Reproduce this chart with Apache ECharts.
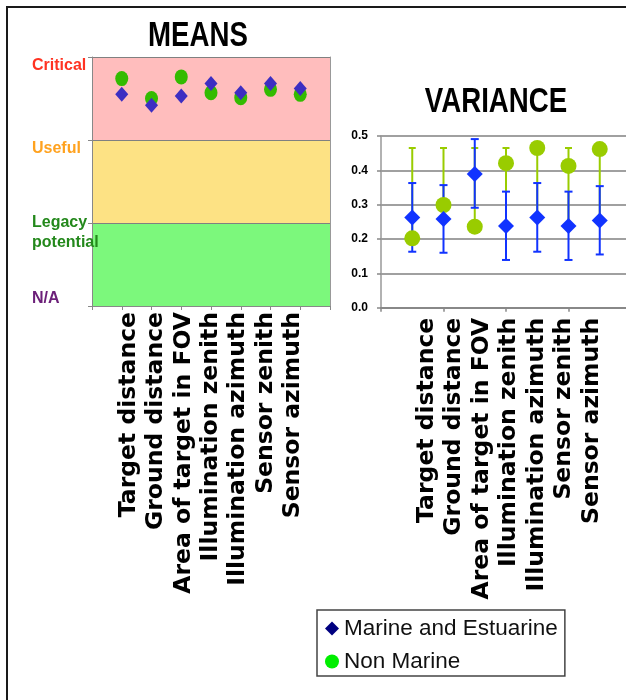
<!DOCTYPE html>
<html>
<head>
<meta charset="utf-8">
<script src="https://cdn.jsdelivr.net/npm/echarts@6/dist/echarts.min.js"></script>
<style>
  html, body { margin: 0; padding: 0; background: #fff; overflow: hidden; }
  #chart { width: 626px; height: 700px; }
</style>
</head>
<body>
<div id="chart"></div>
<script>
// Parameters compared in both panels
const categories = ['Target distance', 'Ground distance', 'Area of target in FOV',
  'Illumination zenith', 'Illumination azimuth', 'Sensor zenith', 'Sensor azimuth'];

// Importance levels on the MEANS scale (0..3)
const meanLevels = ['N/A', 'Legacy potential', 'Useful', 'Critical'];

// MEANS panel
const marineMeans    = [2.55, 2.42, 2.53, 2.68, 2.57, 2.68, 2.62];
const nonMarineMeans = [2.74, 2.50, 2.76, 2.57, 2.51, 2.61, 2.55];

// VARIANCE panel
const marineVariance    = [0.263, 0.258, 0.389, 0.238, 0.263, 0.238, 0.254];
const marineVarLow      = [0.163, 0.160, 0.291, 0.139, 0.163, 0.139, 0.155];
const marineVarHigh     = [0.363, 0.357, 0.491, 0.338, 0.363, 0.338, 0.354];
const nonMarineVariance = [0.202, 0.299, 0.236, 0.421, 0.465, 0.413, 0.462];
const nonMarineVarLow   = [0.202, 0.258, 0.236, 0.238, 0.263, 0.238, 0.254];
const nonMarineVarHigh  = [0.465, 0.465, 0.465, 0.465, 0.465, 0.465, 0.465];
const varianceTicks = [0, 0.1, 0.2, 0.3, 0.4, 0.5];

const panelTitles = ['MEANS', 'VARIANCE'];

// Category axes run "on tick marks" with an empty slot at each end
const axisCats = [''].concat(categories, [' ']);

const SANS = '"Liberation Sans", Arial, sans-serif';
const LABEL_FONT = '"DejaVu Sans", "Liberation Sans", sans-serif';

// Level labels: a spacer line pushes each word block off its tick
const levelKeys = ['na', 'lg', 'us', 'cr'];
function levelLabel(v) {
  const i = Math.round(v);
  const name = meanLevels[i];
  if (name === undefined) return '';
  const k = levelKeys[i];
  if (i === 0) return '{' + k + '|' + name + '}\n{spB| }';
  if (name.indexOf(' ') > 0) {
    const parts = name.split(' ');
    return '{spL| }\n{' + k + '|' + parts[0] + '}\n{' + k + '|' + parts[1] + '}';
  }
  return '{spT| }\n{' + k + '|' + name + '}';
}
const lvl = (color) => ({
  color: color, fontFamily: SANS, fontWeight: 'bold', fontSize: 16, lineHeight: 20
});
const spacer = (h) => ({ fontSize: 10, lineHeight: h });

function errorBars(color, capHalf) {
  return function (params, api) {
    const x = api.value(0);
    const lo = api.coord([x, api.value(1)]);
    const hi = api.coord([x, api.value(2)]);
    const st = { stroke: color, lineWidth: 2 };
    return {
      type: 'group',
      children: [
        { type: 'line', shape: { x1: lo[0], y1: lo[1], x2: hi[0], y2: hi[1] }, style: st },
        { type: 'line', shape: { x1: lo[0] - capHalf, y1: lo[1], x2: lo[0] + capHalf, y2: lo[1] }, style: st },
        { type: 'line', shape: { x1: hi[0] - capHalf, y1: hi[1], x2: hi[0] + capHalf, y2: hi[1] }, style: st }
      ]
    };
  };
}

const pts = (arr) => arr.map((v, i) => [i + 1, v]);
const bars = (lo, hi) => lo.map((v, i) => [i + 1, v, hi[i]]);

const rotatedLabel = (margin) => ({
  show: true, rotate: 90, interval: 0, margin: margin,
  fontFamily: LABEL_FONT, fontWeight: 'bold', fontSize: 23.5, color: '#000'
});

// Condensed panel headings
const heading = (text, x, y) => ({
  type: 'text', x: x, y: y, scaleX: 0.79, silent: true, z: 50,
  style: { text: text, font: 'bold 35px ' + SANS, fill: '#000', align: 'center', verticalAlign: 'middle' }
});

const chart = echarts.init(document.getElementById('chart'), null, { renderer: 'canvas' });

chart.setOption({
  animation: false,
  backgroundColor: '#fff',
  legend: {
    orient: 'vertical', left: 317, top: 610,
    padding: [7, 7, 3, 8], itemGap: 10, itemWidth: 14, itemHeight: 14,
    borderColor: '#444', borderWidth: 1.5, backgroundColor: '#fff',
    selectedMode: false,
    textStyle: { fontFamily: SANS, fontSize: 22.5, color: '#111' },
    data: [
      { name: 'Marine and Estuarine', icon: 'diamond', itemStyle: { color: '#000080' } },
      { name: 'Non Marine', icon: 'circle', itemStyle: { color: '#00ee00' } }
    ]
  },
  grid: [
    { left: 92, top: 57, width: 238, height: 249, outerBoundsMode: 'none' },
    { left: 381, top: 136, width: 250, height: 171.7, outerBoundsMode: 'none' },
    { left: 101.7, top: 57, width: 218.7, height: 249, outerBoundsMode: 'none' },
    { left: 399, top: 136, width: 220, height: 171.7, outerBoundsMode: 'none' }
  ],
  xAxis: [
    { gridIndex: 0, type: 'category', data: axisCats, boundaryGap: false,
      axisLine: { lineStyle: { color: '#888', width: 1 } },
      axisTick: { show: true, length: 4, interval: 0, lineStyle: { color: '#888' } },
      axisLabel: { show: false }, splitLine: { show: false } },
    { gridIndex: 1, type: 'category', data: axisCats, boundaryGap: false,
      axisLine: { lineStyle: { color: '#888', width: 2 } },
      axisTick: { show: true, length: 4, interval: 1, lineStyle: { color: '#888', width: 1.5 } },
      axisLabel: { show: false }, splitLine: { show: false } },
    { gridIndex: 2, type: 'category', data: axisCats, boundaryGap: false,
      axisLine: { show: false }, axisTick: { show: false },
      axisLabel: rotatedLabel(6), splitLine: { show: false } },
    { gridIndex: 3, type: 'category', data: axisCats, boundaryGap: false,
      axisLine: { show: false }, axisTick: { show: false },
      axisLabel: rotatedLabel(10), splitLine: { show: false } }
  ],
  yAxis: [
    { gridIndex: 0, type: 'value', min: 0, max: meanLevels.length - 1, interval: 1,
      axisLine: { show: true, lineStyle: { color: '#888', width: 1 } },
      axisTick: { show: true, length: 4, lineStyle: { color: '#888' } },
      splitLine: { show: true, lineStyle: { color: '#808080', width: 1 } },
      splitArea: { show: true, areaStyle: { color: ['#7cf87c', '#fde284', '#ffbdbd'] } },
      axisLabel: {
        show: true, align: 'left', margin: 60, formatter: levelLabel,
        rich: {
          cr: lvl('#ff3322'),
          us: lvl('#ffa21f'),
          lg: lvl('#23881b'),
          na: lvl('#6c2079'),
          spT: spacer(17),
          spL: spacer(20),
          spB: spacer(14)
        }
      } },
    { gridIndex: 0, type: 'value', position: 'right', min: 0, max: meanLevels.length - 1,
      axisLine: { show: true, lineStyle: { color: '#999', width: 1 } },
      axisTick: { show: false }, axisLabel: { show: false }, splitLine: { show: false } },
    { gridIndex: 1, type: 'value', min: varianceTicks[0], max: varianceTicks[varianceTicks.length - 1],
      interval: 0.1,
      axisLine: { show: true, lineStyle: { color: '#999', width: 1.5 } },
      axisTick: { show: true, length: 4, lineStyle: { color: '#888', width: 1.5 } },
      splitLine: { show: true, lineStyle: { color: '#808080', width: 1.5 } },
      axisLabel: { show: true, margin: 13, fontFamily: SANS, fontWeight: 'bold', fontSize: 12,
        color: '#000', formatter: (v) => v.toFixed(1) } },
    { gridIndex: 2, type: 'value', show: false, min: 0, max: 1 },
    { gridIndex: 3, type: 'value', show: false, min: 0, max: 1 }
  ],
  series: [
    { name: 'Non Marine', type: 'scatter', xAxisIndex: 0, yAxisIndex: 0, z: 3,
      symbol: 'circle', symbolSize: [13, 15], itemStyle: { color: '#33bb00', opacity: 1 },
      data: pts(nonMarineMeans) },
    { name: 'Marine and Estuarine', type: 'scatter', xAxisIndex: 0, yAxisIndex: 0, z: 4,
      symbol: 'diamond', symbolSize: [13, 15], itemStyle: { color: '#3d2ec2', opacity: 1 },
      data: pts(marineMeans) },
    { name: 'Non Marine', type: 'custom', xAxisIndex: 1, yAxisIndex: 2, z: 2,
      renderItem: errorBars('#99cc00', 3.5), encode: { x: 0, y: [1, 2] },
      data: bars(nonMarineVarLow, nonMarineVarHigh) },
    { name: 'Marine and Estuarine', type: 'custom', xAxisIndex: 1, yAxisIndex: 2, z: 2,
      renderItem: errorBars('#1133ff', 4), encode: { x: 0, y: [1, 2] },
      data: bars(marineVarLow, marineVarHigh) },
    { name: 'Non Marine', type: 'scatter', xAxisIndex: 1, yAxisIndex: 2, z: 3,
      symbol: 'circle', symbolSize: [16, 16], itemStyle: { color: '#99cc00', opacity: 1 },
      data: pts(nonMarineVariance) },
    { name: 'Marine and Estuarine', type: 'scatter', xAxisIndex: 1, yAxisIndex: 2, z: 4,
      symbol: 'diamond', symbolSize: [16, 16], itemStyle: { color: '#1133ff', opacity: 1 },
      data: pts(marineVariance) }
  ],
  graphic: [
    heading(panelTitles[0], 198, 36.5),
    heading(panelTitles[1], 496, 102.5),
    { type: 'rect', silent: true, z: 100,
      shape: { x: 7, y: 7, width: 660, height: 740 },
      style: { fill: 'none', stroke: '#1a1a1a', lineWidth: 2 } }
  ]
});
</script>
</body>
</html>
